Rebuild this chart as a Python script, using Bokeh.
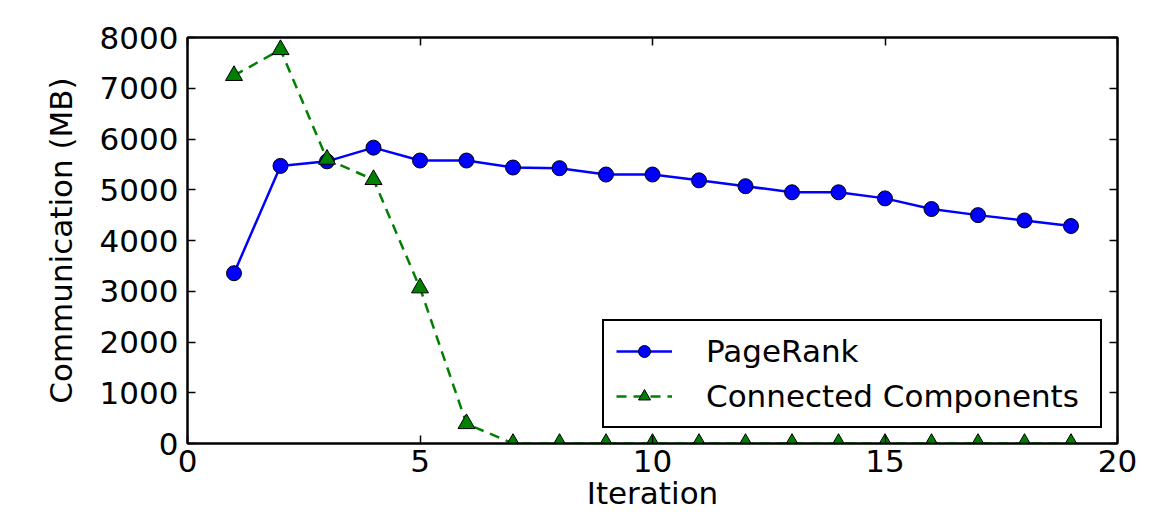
from bokeh.plotting import figure
from bokeh.models import LinearAxis, Legend, LegendItem, Range1d, FixedTicker, ColumnDataSource
from bokeh.embed import file_html
from bokeh.resources import INLINE

iterations = list(range(1, 20))
pagerank = [3355, 5470, 5560, 5830, 5576, 5576, 5438, 5425, 5300, 5300,
            5185, 5070, 4950, 4950, 4830, 4620, 4500, 4395, 4285]
connected = [7250, 7760, 5600, 5200, 3065, 390, 0, 0, 0, 0,
             0, 0, 0, 0, 0, 0, 0, 0, 0]
x_ticks = [0, 5, 10, 15, 20]
y_ticks = [0, 1000, 2000, 3000, 4000, 5000, 6000, 7000, 8000]

FONT = "DejaVu Sans"
FS = "31px"

p = figure(frame_width=930, frame_height=406, output_backend="svg", toolbar_location=None,
           x_range=Range1d(0, 20), y_range=Range1d(0, 8000),
           min_border_left=187, min_border_right=36, min_border_top=37, min_border_bottom=10)
p.grid.visible = False
p.outline_line_color = "black"
p.outline_line_width = 2
p.background_fill_color = "white"
p.border_fill_color = "white"

def style_axis(ax, show_labels=True):
    ax.axis_line_width = 2
    ax.axis_line_color = "black"
    ax.major_tick_in = 8
    ax.major_tick_out = 0
    ax.major_tick_line_width = 1.5
    ax.minor_tick_in = 0
    ax.minor_tick_out = 0
    ax.major_label_text_font = FONT
    if show_labels:
        ax.major_label_text_font_size = FS
        ax.major_label_text_color = "black"
    else:
        ax.major_label_text_font_size = "1px"
        ax.major_label_text_color = None
    ax.axis_label_text_font = FONT
    ax.axis_label_text_font_size = FS
    ax.axis_label_text_font_style = "normal"
    ax.axis_label_text_color = "black"

p.xaxis.axis_label = "Iteration"
p.yaxis.axis_label = "Communication (MB)"
p.xaxis.ticker = FixedTicker(ticks=x_ticks)
p.yaxis.ticker = FixedTicker(ticks=y_ticks)
for ax in p.xaxis + p.yaxis:
    style_axis(ax)
p.xaxis.major_label_standoff = 6
p.xaxis.axis_label_standoff = 0
p.yaxis.major_label_standoff = 9
p.yaxis.axis_label_standoff = 18

top = LinearAxis(ticker=FixedTicker(ticks=x_ticks))
right = LinearAxis(ticker=FixedTicker(ticks=y_ticks))
p.add_layout(top, "above")
p.add_layout(right, "right")
for ax in (top, right):
    style_axis(ax, show_labels=False)
    ax.major_label_standoff = 0

src = ColumnDataSource(dict(x=iterations, pr=pagerank, cc=connected))

pr_line = p.line("x", "pr", source=src, line_color="#0000ff", line_width=2.5)
pr_pts = p.scatter("x", "pr", source=src, marker="circle", size=15,
                   fill_color="#0000ff", line_color="black", line_width=1)
cc_line = p.line("x", "cc", source=src, line_color="#008000", line_width=2.5, line_dash="10 7")
cc_pts = p.scatter("x", "cc", source=src, marker="triangle", size=17,
                   fill_color="#008000", line_color="black", line_width=1)

legend = Legend(items=[
    LegendItem(label="PageRank", renderers=[pr_line, pr_pts]),
    LegendItem(label="Connected Components", renderers=[cc_line, cc_pts]),
], location="bottom_right")
legend.margin = 15
legend.padding = 12
legend.spacing = 9
legend.glyph_width = 56
legend.glyph_height = 30
legend.label_height = 30
legend.label_width = 382
legend.label_standoff = 34
legend.label_text_font = FONT
legend.label_text_font_size = FS
legend.label_text_color = "black"
legend.border_line_color = "black"
legend.border_line_width = 2
legend.border_line_alpha = 1
legend.background_fill_color = "white"
legend.background_fill_alpha = 1
p.add_layout(legend, "center")

open("out.html", "w").write(file_html(p, INLINE))
